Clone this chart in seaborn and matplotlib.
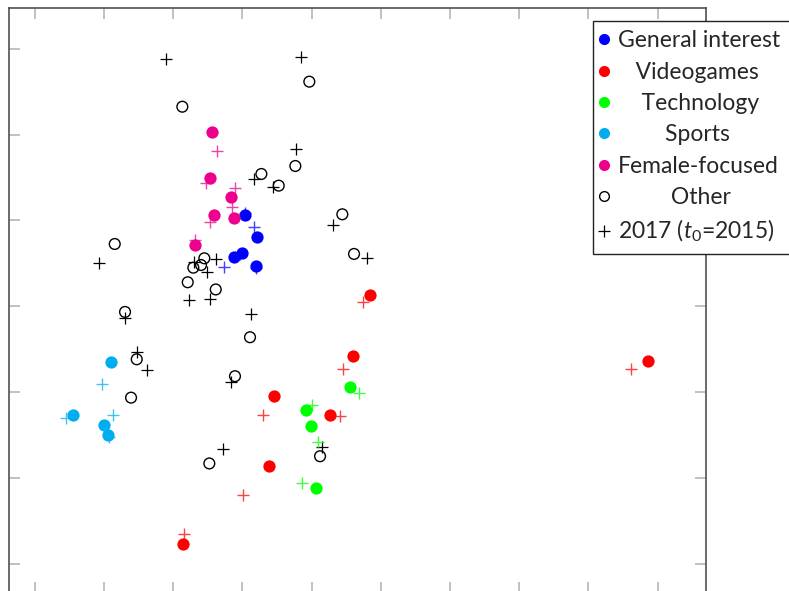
import matplotlib
matplotlib.use("Agg")
import matplotlib.pyplot as plt
from matplotlib.lines import Line2D
import seaborn as sns
import numpy as np

# ---- data (2015 positions = circles, 2017 positions = crosses) ----
gen_x15 = [3.043, 3.208, 2.991, 2.884, 3.194]
gen_y15 = [4.064, 3.811, 3.618, 3.578, 3.470]
gen_x17 = [3.173, 2.736, 3.194, 3.039, 2.967]
gen_y17 = [3.924, 3.462, 3.451, 4.082, 3.610]

vid_x15 = [4.845, 4.595, 3.454, 4.272, 3.386, 8.858, 2.143]
vid_y15 = [3.132, 2.417, 1.955, 1.730, 1.142, 2.366, 0.230]
vid_x17 = [4.744, 4.455, 3.299, 4.416, 3.014, 8.621, 2.157]
vid_y17 = [3.050, 2.273, 1.730, 1.721, 0.801, 2.266, 0.346]

tec_x15 = [4.556, 3.916, 3.993, 4.061]
tec_y15 = [2.056, 1.791, 1.608, 0.882]
tec_x17 = [4.686, 4.003, 4.094, 3.858]
tec_y17 = [1.986, 1.846, 1.415, 0.941]

spo_x15 = [1.098, 0.549, 1.006, 1.064]
spo_y15 = [2.354, 1.733, 1.617, 1.500]
spo_x17 = [0.977, 1.132, 0.452, 1.074]
spo_y17 = [2.091, 1.733, 1.702, 1.477]

fem_x15 = [2.562, 2.529, 2.841, 2.595, 2.884, 2.312]
fem_y15 = [5.028, 4.499, 4.277, 4.061, 4.026, 3.714]
fem_x17 = [2.639, 2.475, 2.899, 2.855, 2.529, 2.312]
fem_y17 = [4.814, 4.441, 4.375, 4.161, 3.983, 3.773]

oth_x15 = [2.133, 3.968, 3.275, 3.526, 3.766, 4.445, 4.614, 1.156, 2.451, 2.403,
           2.292, 2.211, 2.616, 1.305, 3.111, 1.474, 2.894, 1.392, 2.523, 4.123]
oth_y15 = [5.326, 5.618, 4.542, 4.406, 4.635, 4.072, 3.610, 3.726, 3.559, 3.481,
           3.450, 3.280, 3.196, 2.934, 2.639, 2.382, 2.185, 1.935, 1.168, 1.252]
oth_x17 = [1.897, 3.844, 3.780, 3.169, 3.448, 4.315, 4.802, 0.925, 2.298, 2.616,
           2.490, 2.230, 2.540, 3.126, 1.305, 1.483, 1.618, 2.837, 2.717, 4.145]
oth_y17 = [5.882, 5.909, 4.828, 4.487, 4.387, 3.948, 3.563, 3.501, 3.520, 3.555,
           3.394, 3.073, 3.085, 2.910, 2.860, 2.464, 2.258, 2.118, 1.335, 1.357]

categories = ["General interest", "Videogames", "Technology", "Sports", "Female-focused"]
cat_colors = ["#0000ff", "#ff0000", "#00ff00", "#00aeef", "#ec008c"]
x_ticks = list(range(10))
y_ticks = list(range(7))
legend_other = "Other"
legend_cross = "2017 ($t_0$=2015)"

series15 = [(gen_x15, gen_y15), (vid_x15, vid_y15), (tec_x15, tec_y15),
            (spo_x15, spo_y15), (fem_x15, fem_y15)]
series17 = [(gen_x17, gen_y17), (vid_x17, vid_y17), (tec_x17, tec_y17),
            (spo_x17, spo_y17), (fem_x17, fem_y17)]

# ---- style ----
sns.set_style("ticks")
plt.rcParams["font.family"] = ["Lato", "DejaVu Sans"]
plt.rcParams["mathtext.fontset"] = "custom"
plt.rcParams["mathtext.rm"] = "Lato"
plt.rcParams["mathtext.it"] = "Lato:italic"

fig = plt.figure(figsize=(7.89, 5.91), dpi=100)
W, H = 789.0, 591.0
ax = fig.add_axes([8.7 / W, 1 - 593 / H, (706 - 8.7) / W, (593 - 7.7) / H])

S_FILL = 78
S_OPEN = 60
S_CROSS = 70

# other: open circles + black crosses
sns.scatterplot(x=oth_x17, y=oth_y17, ax=ax, marker="+", color="black",
                s=S_CROSS, linewidth=0.9, zorder=2)
ax.scatter(oth_x15, oth_y15, marker="o", s=S_OPEN, facecolors="none",
           edgecolors="black", linewidths=1.0, zorder=2)

for (xs, ys), col in zip(series17, cat_colors):
    sns.scatterplot(x=xs, y=ys, ax=ax, marker="+", color=col, alpha=0.75,
                    s=S_CROSS, linewidth=1.0, zorder=3)
for (xs, ys), col in zip(series15, cat_colors):
    sns.scatterplot(x=xs, y=ys, ax=ax, marker="o", color=col, s=S_FILL,
                    linewidth=0, zorder=4)

ax.set_xlim(-0.376, 9.70)
ax.set_ylim(-0.342, 6.48)
ax.set_xticks(x_ticks)
ax.set_yticks(y_ticks)
ax.tick_params(direction="in", length=8, width=1.1, color="#b0b0b0",
               top=True, right=True, bottom=True, left=True,
               labelbottom=False, labelleft=False)
for sp in ax.spines.values():
    sp.set_visible(True)
    sp.set_color("#505050")
    sp.set_linewidth(1.2)
ax.set_xlabel("")
ax.set_ylabel("")

# ---- legend (labels centred) ----
labels = categories + [legend_other, legend_cross]
fs = 16.5
renderer = fig.canvas.get_renderer()
def tw(s):
    t = fig.text(0, 0, s, fontsize=fs)
    w = t.get_window_extent(renderer).width
    t.remove()
    return w
widths = [tw(l) for l in labels]
sp_w = (tw("a" + " " * 10 + "a") - tw("aa")) / 10
maxw = max(widths)
padded = [" " * int(round((maxw - w) / 2 / sp_w)) + l for l, w in zip(labels, widths)]

handles = [Line2D([], [], marker="o", linestyle="none", markersize=7,
                  markerfacecolor=c, markeredgecolor=c) for c in cat_colors]
handles.append(Line2D([], [], marker="o", linestyle="none", markersize=7,
                      markerfacecolor="none", markeredgecolor="black", markeredgewidth=1))
handles.append(Line2D([], [], marker="+", linestyle="none", markersize=8,
                      color="black", markeredgewidth=0.9))
leg = fig.legend(handles, padded, loc="upper left",
                 bbox_to_anchor=(593 / W, 1 - 21 / H), bbox_transform=fig.transFigure,
                 borderaxespad=0, fontsize=fs, frameon=True, fancybox=False,
                 handlelength=0.15, handletextpad=0.53, borderpad=0.41,
                 labelspacing=0.45, framealpha=1)
leg.get_frame().set_edgecolor("#222222")
leg.get_frame().set_linewidth(1.0)

fig.savefig("out.png", dpi=100)
